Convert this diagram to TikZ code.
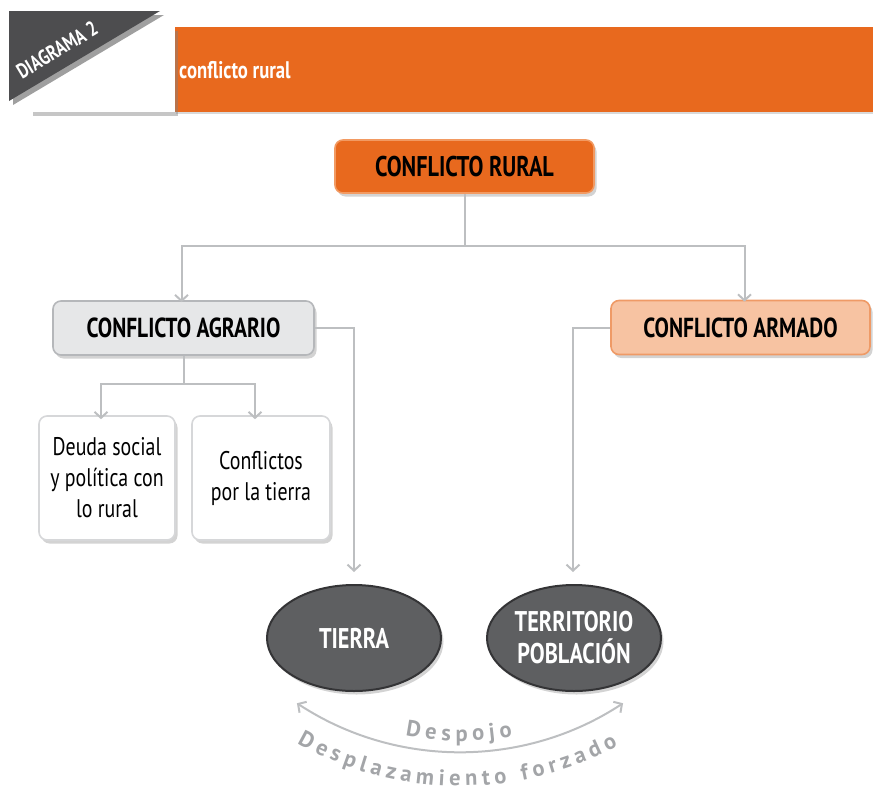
\documentclass[tikz,border=0pt]{standalone}
\usepackage{fontspec}
\setmainfont[FakeStretch=0.78]{PT Sans}
\newfontfamily\arcfont{PT Sans}
\usetikzlibrary{shadows,arrows.meta,decorations.text,shapes.geometric,calc}
\definecolor{orng}{HTML}{E8691E}
\definecolor{orngedge}{HTML}{F29A62}
\definecolor{peach}{HTML}{F7C3A2}
\definecolor{peachedge}{HTML}{EF9A66}
\definecolor{lgray}{HTML}{E6E7E8}
\definecolor{lgedge}{HTML}{B5B7BA}
\definecolor{wedge}{HTML}{D6D7D9}
\definecolor{dgray}{HTML}{4D4D4F}
\definecolor{ellfill}{HTML}{5E5F61}
\definecolor{elledge}{HTML}{343436}
\definecolor{lncol}{HTML}{BDBFC1}
\definecolor{txtgray}{HTML}{A3A5A8}
\tikzset{
  sh/.style={drop shadow={shadow xshift=2.5pt,shadow yshift=-3.5pt,opacity=0.35}},
  boxbase/.style={rounded corners=8pt, line width=1.6pt, inner sep=0pt, sh},
  bigbox/.style={boxbase, font=\fontsize{28.5}{30}\selectfont\bfseries},
  midbox/.style={boxbase, font=\fontsize{27.5}{28}\selectfont\bfseries},
  txtbox/.style={boxbase, draw=wedge, fill=white, minimum width=136pt, minimum height=124pt, align=center, font=\fontsize{25.5}{31}\selectfont},
  ell/.style={ellipse, fill=ellfill, draw=elledge, line width=2pt, minimum width=174pt, minimum height=106pt, inner sep=0pt, text=white, align=center, font=\fontsize{28.5}{32}\selectfont\bfseries, sh},
  conn/.style={draw=lncol, line width=2pt, -{Straight Barb[length=6pt,width=13pt]}},
  plainln/.style={draw=lncol, line width=2pt},
}
\begin{document}
\begin{tikzpicture}[x=1pt,y=-1pt]
\useasboundingbox (0,0) rectangle (873,793);
% header
\fill[orng, drop shadow={shadow xshift=1pt,shadow yshift=-2pt,opacity=0.3}] (175,27) rectangle (873,112);
\fill[white, drop shadow={shadow xshift=3pt,shadow yshift=-4pt,opacity=0.45}] (30,27) rectangle (175,112);
\fill[dgray, drop shadow={shadow xshift=4pt,shadow yshift=-4pt,opacity=0.75}] (9,11) -- (160,11) -- (9,101) -- cycle;
\node[rotate=31, text=white, inner sep=0pt, font=\fontsize{21}{21}\selectfont\bfseries] (dg) at (57,50) {DIAGRAMA 2};
\node[anchor=west, text=white, inner sep=0pt, font=\fontsize{24}{24}\selectfont\bfseries] (hl) at (179,70) {conflicto rural};
% boxes
\node[bigbox, fill=orng, draw=orngedge, minimum width=259pt, minimum height=53pt] (cr) at (464.5,166.5) {CONFLICTO RURAL};
\node[midbox, fill=lgray, draw=lgedge, minimum width=261pt, minimum height=54pt] (ag) at (183.5,328) {CONFLICTO AGRARIO};
\node[midbox, fill=peach, draw=peachedge, minimum width=259pt, minimum height=54pt] (ar) at (740.5,327.5) {CONFLICTO ARMADO};
\node[txtbox] (de) at (107,478) {Deuda social\\y política con\\lo rural};
\node[txtbox, minimum width=138pt] (co) at (261,478) {Conflictos\\por la tierra};
\node[ell] (ti) at (354,638) {TIERRA};
\node[ell] (te) at (574,638) {TERRITORIO\\POBLACIÓN};
% connectors
\coordinate (j1) at ($(cr.south)+(0,52)$);
\draw[plainln] (cr.south) -- (j1);
\draw[conn] (j1) -| ([xshift=-2pt,yshift=-2pt]ag.north);
\draw[conn] (j1) -| ([xshift=4pt,yshift=-2pt]ar.north);
\coordinate (j2) at ($(ag.south)+(0,28)$);
\draw[plainln] (ag.south) -- (j2);
\draw[conn] (j2) -| ([xshift=-6pt,yshift=-4pt]de.north);
\draw[conn] (j2) -| ([xshift=-6pt,yshift=-4pt]co.north);
\draw[conn, shorten >=12pt] (ag.east) -| (ti.north);
\draw[conn, shorten >=12pt] (ar.west) -| ([xshift=-1pt]te.north);
% arc
\coordinate (c) at (460,455);
\coordinate (a1) at ($(c)+(123.3:297)$);
\draw[plainln, {Straight Barb[length=6pt,width=13pt]}-{Straight Barb[length=6pt,width=13pt]}] (a1) arc[start angle=123.3, end angle=56.7, radius=297];
\path[decorate, decoration={text along path, text align={fit to path}, text color=txtgray,
  text={|\arcfont\fontsize{22.5}{22.5}\selectfont\bfseries|Despojo}}]
  ($(c)+(101:286)$) arc[start angle=101, end angle=79.4, radius=286];
\path[decorate, decoration={text along path, text align={fit to path}, text color=txtgray,
  text={|\arcfont\fontsize{22.5}{22.5}\selectfont\bfseries|Desplazamiento forzado}}]
  ($(c)+(119.5:331)$) arc[start angle=119.5, end angle=61.5, radius=331];
\end{tikzpicture}
\end{document}
